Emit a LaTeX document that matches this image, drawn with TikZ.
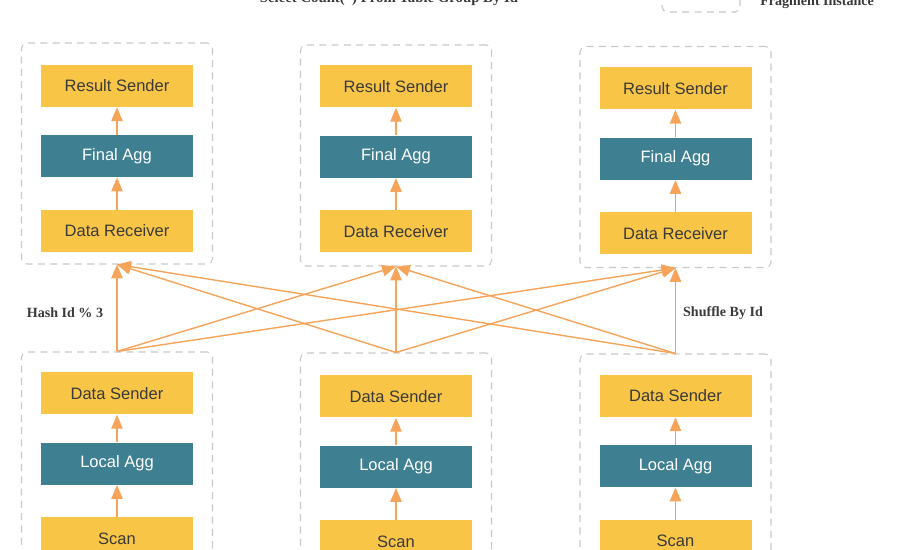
\documentclass[tikz,border=0pt]{standalone}
\usepackage{fontspec}
\setmainfont{Liberation Sans}
\newfontfamily\notefont{Liberation Serif}
\usepackage{tikz}
\usetikzlibrary{arrows,positioning}
\definecolor{opYellow}{HTML}{F8C546}
\definecolor{opTeal}{HTML}{3E7F91}
\definecolor{flowOrange}{HTML}{F5A45A}
\definecolor{fragGray}{HTML}{C9C9C9}
\definecolor{noteGray}{HTML}{3A3A3A}

\begin{document}
\begin{tikzpicture} %
		[
			font={\fontsize{9.4}{11}\selectfont},
			node distance=0.55cm,
			op/.style={
				anchor=center,
				rectangle,
				minimum width=3.04cm,
				minimum height=0.84cm,
				inner sep=0,
			},
			yellowop/.style={op, fill=opYellow, text=noteGray},
			tealop/.style={op, fill=opTeal, text=white},
			frag/.style={
				draw=fragGray,
				dash pattern=on 4pt off 3pt,
				line width=0.6pt,
				rounded corners=3,
				minimum width=3.82cm,
				minimum height=4.42cm,
				inner sep=0,
			},
			arch/.style={-triangle 45, draw=flowOrange, line width=0.8pt},
			note/.style={font={\notefont\bfseries\fontsize{8}{9}\selectfont}, text=noteGray, inner sep=0},
		]
		\clip (0,0) rectangle (18,-11);
		\useasboundingbox (0,0) rectangle (18,-11);
		% title and legend, cut by the top edge
		\node[note, anchor=base, font={\notefont\bfseries\fontsize{8.4}{9}\selectfont}]
		(title) at (7.78,-0.05) {Select Count(*) From Table Group By Id};
		\node[frag, minimum width=1.56cm, minimum height=0.7cm]
		(legend) at (14.02,0.11) {};
		\node[note, anchor=base west]
		(legendtext) at (15.2,-0.12) {Fragment Instance};
		% upper fragments
		\node[frag] (fragA) at (2.34,-3.07) {};
		\node[yellowop] (sendA) at (2.34,-1.72) {Result Sender};
		\node[tealop, below =of sendA] (aggA) {Final Agg};
		\node[yellowop, below =0.64cm of aggA] (recvA) {Data Receiver};
		\node[frag] (fragB) at (7.92,-3.11) {};
		\node[yellowop] (sendB) at (7.92,-1.73) {Result Sender};
		\node[tealop, below =of sendB] (aggB) {Final Agg};
		\node[yellowop, below =0.64cm of aggB] (recvB) {Data Receiver};
		\node[frag] (fragC) at (13.51,-3.14) {};
		\node[yellowop] (sendC) at (13.51,-1.77) {Result Sender};
		\node[tealop, below =of sendC] (aggC) {Final Agg};
		\node[yellowop, below =0.64cm of aggC] (recvC) {Data Receiver};
		% lower fragments
		\node[frag] (fragD) at (2.34,-9.25) {};
		\node[yellowop] (dsendD) at (2.34,-7.87) {Data Sender};
		\node[tealop, below =of dsendD] (laggD) {Local Agg};
		\node[yellowop, below =0.64cm of laggD] (scanD) {Scan};
		\node[frag] (fragE) at (7.92,-9.27) {};
		\node[yellowop] (dsendE) at (7.92,-7.93) {Data Sender};
		\node[tealop, below =of dsendE] (laggE) {Local Agg};
		\node[yellowop, below =0.64cm of laggE] (scanE) {Scan};
		\node[frag] (fragF) at (13.51,-9.29) {};
		\node[yellowop] (dsendF) at (13.51,-7.92) {Data Sender};
		\node[tealop, below =of dsendF] (laggF) {Local Agg};
		\node[yellowop, below =0.64cm of laggF] (scanF) {Scan};
		% inside the fragments
		\draw[arch] (recvA) -- (aggA);
		\draw[arch] (aggA) -- (sendA);
		\draw[arch] (recvB) -- (aggB);
		\draw[arch] (aggB) -- (sendB);
		\draw[arch] (recvC) -- (aggC);
		\draw[arch] (aggC) -- (sendC);
		\draw[arch] (scanD) -- (laggD);
		\draw[arch] (laggD) -- (dsendD);
		\draw[arch] (scanE) -- (laggE);
		\draw[arch] (laggE) -- (dsendE);
		\draw[arch] (scanF) -- (laggF);
		\draw[arch] (laggF) -- (dsendF);
		% shuffle between the fragments
		\draw[arch] (fragD.north) -- (fragA.south);
		\draw[arch] (fragD.north) -- (fragB.south);
		\draw[arch] (fragD.north) -- (fragC.south);
		\draw[arch] (fragE.north) -- (fragA.south);
		\draw[arch] (fragE.north) -- (fragB.south);
		\draw[arch] (fragE.north) -- (fragC.south);
		\draw[arch] (fragF.north) -- (fragA.south);
		\draw[arch] (fragF.north) -- (fragB.south);
		\draw[arch] (fragF.north) -- (fragC.south);
		\node[note] (hashnote) at (1.3,-6.26) {Hash Id \% 3};
		\node[note] (shufflenote) at (14.46,-6.26) {Shuffle By Id};
	\end{tikzpicture}
\end{document}
